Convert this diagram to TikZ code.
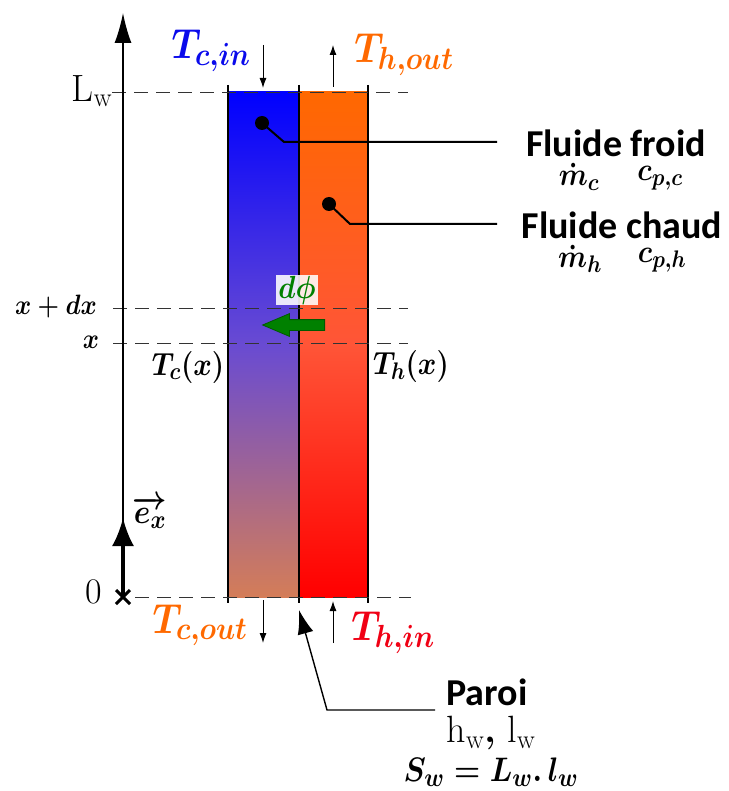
\documentclass[tikz,border=0pt]{standalone}
\usepackage{fix-cm}
\usepackage{graphicx}
\usepackage{fontspec}
\usetikzlibrary{arrows.meta, positioning, shapes.arrows}
\newfontfamily\labelfont{Carlito}
\DeclareMathSizes{28}{28}{21}{15}
\DeclareMathSizes{32}{32}{24}{18}
\DeclareMathSizes{34}{34}{26}{19}
\DeclareMathSizes{42}{42}{32}{24}
\newcommand{\bmath}[1]{\scalebox{0.88}[1]{\boldmath$#1$}}
\definecolor{coldblue}{RGB}{0,0,255}
\definecolor{coldmid}{RGB}{105,75,210}
\definecolor{coldend}{RGB}{212,125,88}
\definecolor{hotorange}{RGB}{255,104,0}
\definecolor{hotmid}{RGB}{255,85,55}
\definecolor{hotred}{RGB}{255,0,0}
\definecolor{fluxgreen}{RGB}{0,128,0}
\definecolor{tempblue}{RGB}{10,10,235}
\definecolor{temporange}{RGB}{255,105,0}
\definecolor{tempred}{RGB}{240,0,20}

\begin{document}
\begin{tikzpicture}[x=1pt, y=-1pt, >=latex]
  % Styles
  \tikzstyle{channel} = [minimum width=70pt, minimum height=505pt, inner sep=0pt, outer sep=0pt]
  \tikzstyle{guide} = [dash pattern=on 14pt off 8pt, line width=0.9pt, draw=black!80]
  \tikzstyle{wall} = [line width=1.4pt]
  \tikzstyle{leader} = [line width=2pt]
  \tikzstyle{port} = [-{Latex[length=10pt,width=7pt]}, line width=1pt]
  \tikzstyle{blob} = [circle, fill=black, inner sep=0pt, minimum size=14pt]
  \tikzstyle{mathlabel} = [inner sep=0pt, font=\fontsize{32}{36}\selectfont]
  \tikzstyle{templabel} = [inner sep=0pt, font=\fontsize{42}{46}\selectfont]
  \tikzstyle{fluidlabel} = [inner sep=0pt, font=\fontsize{38}{44}\selectfont\labelfont\bfseries]
  \useasboundingbox (0,0) rectangle (728,791);

  % Fluid channels
  \node[channel, minimum width=71pt, top color=coldblue, bottom color=coldend, middle color=coldmid] (cold) at (263.5,344.5) {};
  \node[channel, minimum width=69pt, top color=hotorange, bottom color=hotred, middle color=hotmid] (hot) at (333.5,344.5) {};

  % Walls
  \foreach \wx in {228,299,368}
    \draw[wall] (\wx,85) -- (\wx,603);

  % Level lines
  \draw[guide] (112,92) -- (408,92);
  \draw[guide] (113,308) -- (408,308);
  \draw[guide] (113,343) -- (408,343);
  \draw[guide] (135,597) -- (411,597);

  % Axis
  \coordinate (axisbase) at (123,597);
  \coordinate (axistop) at (123,13);
  \coordinate (unittip) at (123,518);
  \draw[-{Latex[length=30pt,width=17pt]}, line width=1.4pt] (axisbase) -- (axistop);
  \draw[-{Latex[length=28pt,width=22pt]}, line width=3.2pt] (axisbase) -- (unittip);
  \draw[line width=3pt] (116,590) -- (130,604) (116,604) -- (130,590);

  % Inlets and outlets
  \draw[port] (263,45) -- (263,88);
  \draw[port] (333,87) -- (333,45);
  \draw[port] (263,600) -- (263,643);
  \draw[port] (333,643) -- (333,601);

  % Axis labels
  \node[inner sep=0pt, font=\fontsize{38}{40}\selectfont] (lwlabel) at (92,91) {L\textsubscript{w}};
  \node[inner sep=0pt, font=\fontsize{36}{40}\selectfont] (zero) at (94,592) {0};
  \node[mathlabel, font=\fontsize{28}{32}\selectfont] (xdx) at (56,307) {\bmath{x+dx}};
  \node[mathlabel, font=\fontsize{28}{32}\selectfont] (xpos) at (91,342) {\bmath{x}};
  \node[mathlabel, font=\fontsize{34}{38}\selectfont] (unitx) at (150,512) {\bmath{\overrightarrow{e_x}}};

  % Temperatures
  \node[templabel, text=tempblue] (tcin) at (211,51) {\bmath{T_{c,in}}};
  \node[templabel, text=temporange] (thout) at (404,55) {\bmath{T_{h,out}}};
  \node[templabel, text=temporange] (tcout) at (200,625) {\bmath{T_{c,out}}};
  \node[templabel, text=tempred] (thin) at (393,633) {\bmath{T_{h,in}}};
  \node[mathlabel] (tcx) at (188,367) {\bmath{T_c(x)}};
  \node[mathlabel] (thx) at (411,366) {\bmath{T_h(x)}};

  % Heat flux
  \node[fill=white, fill opacity=0.88, text opacity=1, text=fluxgreen, inner sep=0pt, minimum width=42pt, minimum height=30pt,
        font=\fontsize{32}{36}\selectfont] (flux) at (297,290) {\bmath{d\phi}};
  \node[single arrow, shape border rotate=180, draw=fluxgreen!70!black, fill=fluxgreen, line width=0.8pt,
        minimum height=62pt, single arrow head extend=6pt, single arrow tip angle=46,
        inner xsep=0pt, inner ysep=5pt] (fluxarrow) at (300,325) {};

  % Fluid labels
  \node[fluidlabel] (froid) at (616,143) {Fluide froid};
  \node[mathlabel] (mc) at (579,177) {\bmath{\dot m_c}};
  \node[mathlabel] (cpc) at (660,178) {\bmath{c_{p,c}}};
  \node[fluidlabel] (chaud) at (622,225) {Fluide chaud};
  \node[mathlabel] (mh) at (580,259) {\bmath{\dot m_h}};
  \node[mathlabel] (cph) at (662,260) {\bmath{c_{p,h}}};

  % Leaders
  \node[blob] (colddot) at (262,123) {};
  \node[blob] (hotdot) at (329,204) {};
  \coordinate (coldbend) at (284,142);
  \coordinate (coldstop) at (497,142);
  \coordinate (hotbend) at (350,224);
  \coordinate (hotstop) at (497,224);
  \draw[leader] (colddot.center) -- (coldbend) -- (coldstop);
  \draw[leader] (hotdot.center) -- (hotbend) -- (hotstop);

  % Wall label
  \node[fluidlabel] (paroi) at (487,692) {Paroi};
  \node[inner sep=0pt, font=\fontsize{38}{42}\selectfont] (wallsize) at (491,733) {h\textsubscript{w}\textbf{,} l\textsubscript{w}};
  \node[mathlabel, font=\fontsize{34}{38}\selectfont] (wallarea) at (491,772) {\bmath{S_w=L_w.\,l_w}};
  \coordinate (walltip) at (299,610);
  \coordinate (wallbend) at (327,710);
  \coordinate (wallend) at (435,710);
  \draw[{Latex[length=24pt,width=16pt]}-, line width=1.4pt] (walltip) -- (wallbend) -- (wallend);
\end{tikzpicture}
\end{document}
